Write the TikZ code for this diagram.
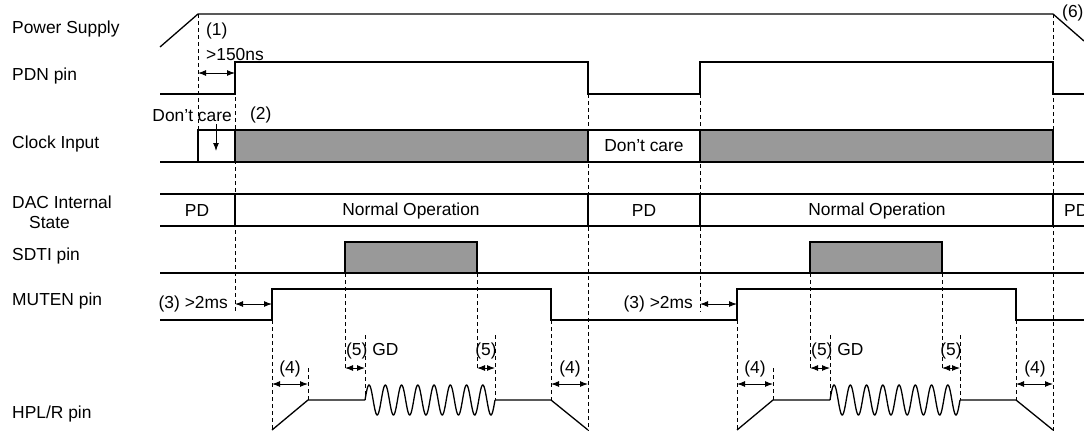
\documentclass[tikz,border=0pt]{standalone}
\usepackage{fontspec}
\setmainfont{Liberation Sans}
\usetikzlibrary{arrows.meta}
\definecolor{mgray}{rgb}{0.6, 0.6, 0.6}
\tikzset{sig/.style = {line width = 1.3pt}}
\tikzset{guide/.style = {dash pattern = on 4pt off 3pt, line width = 0.8pt}}
\tikzset{dim/.style = {{Latex[length=8pt, width=6pt]}-{Latex[length=8pt, width=6pt]}, line width = 1pt}}
\tikzset{busy/.style = {draw, fill = mgray, line width = 1.3pt}}
\tikzset{txt/.style = {inner sep = 0, font = \fontsize{17.4}{20}\selectfont}}

\begin{document}
\begin{tikzpicture}[x = 1pt, y = -1pt]
      \useasboundingbox (0, 0) rectangle (1084, 431);
      % signal names
      \node [txt, anchor = base west] (lps) at (12, 33) {Power Supply};
      \node [txt, anchor = base west] (lpdn) at (12, 80) {PDN pin};
      \node [txt, anchor = base west] (lclk) at (12, 148) {Clock Input};
      \node [txt, anchor = base west] (ldac) at (12, 208) {DAC Internal};
      \node [txt, anchor = base west] (lstate) at (29, 228) {State};
      \node [txt, anchor = base west] (lsdti) at (12, 260) {SDTI pin};
      \node [txt, anchor = base west] (lmute) at (12, 305) {MUTEN pin};
      \node [txt, anchor = base west] (lhp) at (12, 418) {HPL/R pin};
      % power supply and PDN
      \draw [sig] (160, 47) -- (198, 14) -- (1053, 14) -- (1084, 41);
      \draw [sig] (160, 94) -- (235, 94) -- (235, 62) -- (588, 62) -- (588, 94)
        -- (700, 94) -- (700, 62) -- (1053, 62) -- (1053, 94) -- (1084, 94);
      % clock
      \draw [sig] (160, 162) -- (1084, 162);
      \draw [sig] (198, 162) -- (198, 130) -- (235, 130);
      \draw [busy] (235, 130) rectangle (588, 162);
      \draw [busy] (700, 130) rectangle (1053, 162);
      \draw [sig] (588, 130) -- (700, 130);
      \node [txt] (dc2) at (644, 146) {Don't care};
      % DAC state
      \draw [sig] (160, 194) -- (1084, 194);
      \draw [sig] (160, 226) -- (1084, 226);
      \draw [sig] (235, 194) -- (235, 226);
      \draw [sig] (588, 194) -- (588, 226);
      \draw [sig] (700, 194) -- (700, 226);
      \draw [sig] (1053, 194) -- (1053, 226);
      \node [txt] (pd1) at (197, 211) {PD};
      \node [txt] (no1) at (411, 211) {Normal Operation};
      \node [txt] (pd2) at (644, 211) {PD};
      \node [txt] (no2) at (877, 211) {Normal Operation};
      \node [txt, anchor = west] (pd3) at (1064, 211) {PD};
      % SDTI, MUTEN
      \draw [sig] (160, 273) -- (1084, 273);
      \draw [busy] (345, 242) rectangle (477, 273);
      \draw [busy] (810, 242) rectangle (942, 273);
      \draw [sig] (160, 320) -- (272, 320) -- (272, 289) -- (551, 289) -- (551, 320)
        -- (737, 320) -- (737, 289) -- (1016, 289) -- (1016, 320) -- (1084, 320);
      % long guides
      \draw [guide] (198, 14) -- (198, 130);
      \draw [guide] (235, 62) -- (235, 312);
      \draw [guide] (588, 94) -- (588, 431);
      \draw [guide] (700, 94) -- (700, 312);
      \draw [guide] (1053, 14) -- (1053, 431);
      % timings
      \draw [dim] (198, 73) -- (235, 73);
      \node [txt, anchor = west] (t1) at (206, 31) {(1)};
      \node [txt, anchor = base west] (t150) at (206, 60) {>150ns};
      \node [txt, anchor = base east] (dc1) at (232, 121) {Don't care};
      \draw [-{Latex[length=8pt, width=6pt]}, line width = 1pt] (216, 124) -- (216, 151);
      \node [txt, anchor = west] (t2) at (250, 115) {(2)};
      \node [txt, anchor = west] (t6) at (1062, 13) {(6)};
      \foreach \o in {0, 465} {
        % headphone output
        \draw [sig] (272+\o, 430) -- (308+\o, 400) -- (365+\o, 400);
        \draw [sig] plot [domain = 0:130, samples = 240] ({365+\o+\x}, {400-15*sin(\x/130*8*360)});
        \draw [sig] (495+\o, 400) -- (551+\o, 400) -- (588+\o, 430);
        % guides
        \draw [guide] (272+\o, 320) -- (272+\o, 431);
        \draw [guide] (308+\o, 368) -- (308+\o, 400);
        \draw [guide] (345+\o, 273) -- (345+\o, 369);
        \draw [guide] (365+\o, 335) -- (365+\o, 400);
        \draw [guide] (477+\o, 273) -- (477+\o, 369);
        \draw [guide] (495+\o, 335) -- (495+\o, 400);
        \draw [guide] (551+\o, 320) -- (551+\o, 400);
        % arrows
        \draw [dim] (235+\o, 304) -- (272+\o, 304);
        \draw [dim] (272+\o, 384) -- (308+\o, 384);
        \draw [dim] (551+\o, 384) -- (588+\o, 384);
        \draw [dim] (345+\o, 368) -- (365+\o, 368);
        \draw [dim] (477+\o, 368) -- (495+\o, 368);
        \node [txt, anchor = east] at (228+\o, 304) {(3) >2ms};
        \node [txt] at (290+\o, 369) {(4)};
        \node [txt] at (570+\o, 369) {(4)};
        \node [txt, anchor = west] at (346+\o, 351) {(5) GD};
        \node [txt] at (486+\o, 351) {(5)};
      }
    \end{tikzpicture}
\end{document}
